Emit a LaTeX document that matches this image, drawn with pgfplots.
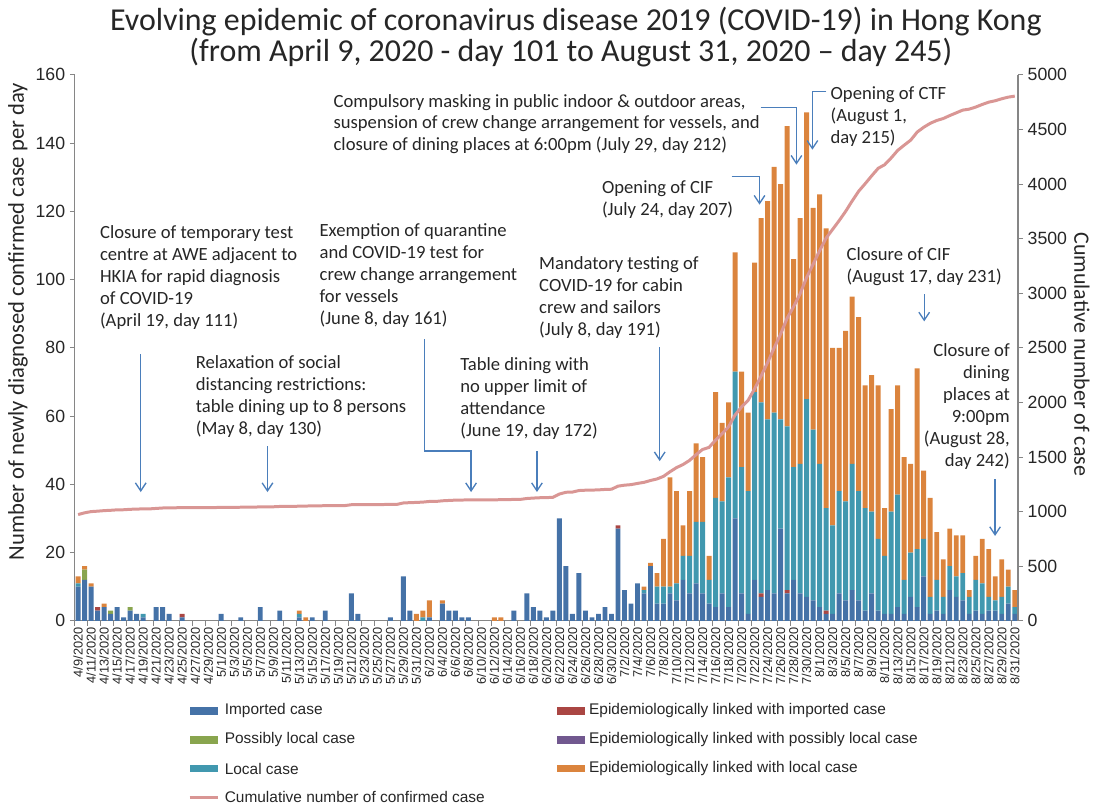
\documentclass[border=0pt]{standalone}
\usepackage{pgfplots}
\pgfplotsset{compat=1.18}
\usepackage{pgfplotstable}
\usepackage{fontspec}
\setmainfont{Carlito}
\newfontfamily\arial{Liberation Sans}
\usetikzlibrary{arrows.meta}

\definecolor{impc}{RGB}{69,114,167}
\definecolor{eimpc}{RGB}{170,70,67}
\definecolor{possc}{RGB}{137,165,78}
\definecolor{epossc}{RGB}{113,88,143}
\definecolor{locc}{RGB}{65,152,175}
\definecolor{elocc}{RGB}{219,132,61}
\definecolor{cumc}{RGB}{217,150,148}
\definecolor{arrowc}{RGB}{74,126,187}
\definecolor{axisgray}{RGB}{134,134,134}
\definecolor{textc}{RGB}{38,38,38}

% px coordinates of the reference image (origin top left)
\tikzset{px/.style={x=0.75pt,y=-0.75pt,xshift=-56.25pt,yshift=466.5pt},
  annot/.style={font=\fontsize{14}{16.5}\selectfont, align=left, inner sep=0pt, anchor=north west, text=textc},
  arr/.style={draw=arrowc, line width=1pt, -{Straight Barb[length=6pt,width=8pt]}}}

% day index (0 = 4/9/2020), cases by type, cumulative
\pgfplotstableread{
i imp eimp poss eposs loc eloc cum
0 10 0 0 0 1 2 973
1 12 0 3 0 0 1 989
2 10 0 0 0 0 1 1000
3 3 1 0 0 0 0 1004
4 4 0 0 0 0 1 1009
5 2 0 1 0 0 0 1012
6 4 0 0 0 0 0 1016
7 1 0 0 0 0 0 1017
8 3 0 1 0 0 0 1021
9 2 0 0 0 0 0 1023
10 1 0 0 0 1 0 1025
11 0 0 0 0 0 0 1025
12 4 0 0 0 0 0 1029
13 4 0 0 0 0 0 1033
14 2 0 0 0 0 0 1035
15 0 0 0 0 0 0 1035
16 1 1 0 0 0 0 1037
17 0 0 0 0 0 0 1037
18 0 0 0 0 0 0 1037
19 0 0 0 0 0 0 1037
20 0 0 0 0 0 0 1037
21 0 0 0 0 0 0 1037
22 2 0 0 0 0 0 1039
23 0 0 0 0 0 0 1039
24 0 0 0 0 0 0 1039
25 1 0 0 0 0 0 1040
26 0 0 0 0 0 0 1040
27 0 0 0 0 0 0 1040
28 4 0 0 0 0 0 1044
29 0 0 0 0 0 0 1044
30 0 0 0 0 0 0 1044
31 3 0 0 0 0 0 1047
32 0 0 0 0 0 0 1047
33 0 0 0 0 0 0 1047
34 1 0 0 0 1 1 1050
35 0 0 0 0 0 1 1051
36 1 0 0 0 0 0 1052
37 0 0 0 0 0 0 1052
38 3 0 0 0 0 0 1055
39 0 0 0 0 0 0 1055
40 0 0 0 0 0 0 1055
41 0 0 0 0 0 0 1055
42 8 0 0 0 0 0 1063
43 2 0 0 0 0 0 1065
44 0 0 0 0 0 0 1065
45 0 0 0 0 0 0 1065
46 0 0 0 0 0 0 1065
47 0 0 0 0 0 0 1065
48 1 0 0 0 0 0 1066
49 0 0 0 0 0 0 1066
50 13 0 0 0 0 0 1079
51 3 0 0 0 0 0 1082
52 0 0 0 0 0 2 1084
53 0 0 0 0 1 2 1087
54 1 0 0 0 0 5 1093
55 0 0 0 0 0 0 1093
56 5 0 0 0 0 1 1099
57 3 0 0 0 0 0 1102
58 3 0 0 0 0 0 1105
59 1 0 0 0 0 0 1106
60 1 0 0 0 0 0 1107
61 0 0 0 0 0 0 1107
62 0 0 0 0 0 0 1107
63 0 0 0 0 0 0 1107
64 0 0 0 0 0 1 1108
65 0 0 0 0 0 1 1109
66 0 0 0 0 0 0 1109
67 3 0 0 0 0 0 1112
68 0 0 0 0 0 0 1112
69 8 0 0 0 0 0 1120
70 4 0 0 0 0 0 1124
71 3 0 0 0 0 0 1127
72 1 0 0 0 0 0 1128
73 3 0 0 0 0 0 1131
74 30 0 0 0 0 0 1161
75 16 0 0 0 0 0 1177
76 2 0 0 0 0 0 1179
77 14 0 0 0 0 0 1193
78 3 0 0 0 0 0 1196
79 1 0 0 0 0 0 1197
80 2 0 0 0 0 0 1199
81 4 0 0 0 0 0 1203
82 2 0 0 0 0 0 1205
83 27 1 0 0 0 0 1233
84 9 0 0 0 0 0 1242
85 5 0 0 0 0 0 1247
86 11 0 0 0 0 0 1258
87 8 0 0 0 1 1 1268
88 16 0 0 0 0 1 1285
89 5 0 0 0 5 4 1299
90 5 0 0 0 5 14 1323
91 8 0 0 0 2 32 1365
92 6 0 0 0 5 27 1403
93 12 0 0 0 7 9 1431
94 8 0 0 0 11 19 1469
95 11 0 0 0 18 23 1521
96 8 0 0 0 21 19 1569
97 5 0 0 0 7 7 1588
98 4 0 0 0 32 31 1655
99 8 0 0 0 27 23 1713
100 4 0 0 0 38 22 1777
101 30 0 0 0 43 35 1885
102 8 0 0 0 37 28 1958
103 2 0 0 0 36 23 2019
104 12 0 0 0 55 38 2124
105 7 1 0 0 56 54 2242
106 9 0 0 0 50 64 2365
107 8 0 0 0 53 72 2498
108 27 0 0 0 32 69 2626
109 8 1 0 0 48 88 2771
110 12 0 0 0 33 61 2877
111 8 0 0 0 38 72 2995
112 7 0 0 0 58 84 3144
113 6 0 0 0 50 65 3265
114 4 0 0 0 42 79 3390
115 2 1 0 0 30 82 3505
116 2 0 0 0 26 52 3585
117 8 0 0 0 30 42 3665
118 6 0 0 0 29 50 3750
119 9 0 0 0 37 49 3845
120 6 0 0 0 32 51 3934
121 3 0 0 0 30 36 4003
122 8 0 0 0 24 40 4075
123 3 0 0 0 21 45 4144
124 2 0 0 0 17 14 4177
125 2 0 0 0 30 30 4239
126 4 0 0 0 33 32 4308
127 2 0 0 0 10 36 4356
128 7 0 0 0 13 26 4402
129 4 0 0 0 17 53 4476
130 13 0 0 0 11 20 4520
131 2 0 0 0 5 29 4556
132 3 0 0 0 9 14 4582
133 2 0 0 0 5 11 4600
134 9 0 0 0 7 11 4627
135 7 0 0 0 6 12 4652
136 6 0 0 0 8 11 4677
137 2 0 0 0 5 2 4686
138 3 0 0 0 9 7 4705
139 2 0 0 0 9 13 4729
140 3 0 0 0 4 14 4750
141 3 0 0 0 3 7 4763
142 2 0 0 0 5 11 4781
143 5 0 0 0 5 5 4796
144 2 0 0 0 2 5 4805
}\daily

\begin{document}
\begin{tikzpicture}
\begin{scope}[px]
  \useasboundingbox (0,0) rectangle (1094,811);
\end{scope}

\begin{axis}[
    at={(0,0)}, anchor=south west,
    scale only axis, width=708.75pt, height=410.25pt,
    xmin=-0.5, xmax=144.5, ymin=0, ymax=160,
    ybar stacked, bar width=3.7pt,
    axis x line*=bottom, axis y line*=left,
    axis line style={draw=axisgray, line width=0.8pt},
    tick align=outside, major tick length=3.75pt, minor tick length=3.75pt,
    xtick={0,2,...,144},
    xticklabels={4/9/2020,4/11/2020,4/13/2020,4/15/2020,4/17/2020,4/19/2020,4/21/2020,4/23/2020,4/25/2020,4/27/2020,4/29/2020,
      5/1/2020,5/3/2020,5/5/2020,5/7/2020,5/9/2020,5/11/2020,5/13/2020,5/15/2020,5/17/2020,5/19/2020,5/21/2020,5/23/2020,5/25/2020,5/27/2020,5/29/2020,5/31/2020,
      6/2/2020,6/4/2020,6/6/2020,6/8/2020,6/10/2020,6/12/2020,6/14/2020,6/16/2020,6/18/2020,6/20/2020,6/22/2020,6/24/2020,6/26/2020,6/28/2020,6/30/2020,
      7/2/2020,7/4/2020,7/6/2020,7/8/2020,7/10/2020,7/12/2020,7/14/2020,7/16/2020,7/18/2020,7/20/2020,7/22/2020,7/24/2020,7/26/2020,7/28/2020,7/30/2020,
      8/1/2020,8/3/2020,8/5/2020,8/7/2020,8/9/2020,8/11/2020,8/13/2020,8/15/2020,8/17/2020,8/19/2020,8/21/2020,8/23/2020,8/25/2020,8/27/2020,8/29/2020,8/31/2020},
    minor xtick={-0.5,1.5,...,143.5},
    major x tick style={draw=none},
    minor x tick style={draw=axisgray, line width=0.6pt},
    ytick={0,20,...,160},
    y tick style={draw=axisgray, line width=0.6pt},
    x tick label style={rotate=90, anchor=east, inner sep=1pt, font=\arial\fontsize{9.6}{10}\selectfont, text=textc},
    y tick label style={font=\arial\fontsize{13.3}{14}\selectfont, text=textc},
    /pgf/number format/assume math mode=true,
    ylabel={Number of newly diagnosed confirmed case per day},
    every axis y label/.style={at={(axis description cs:-0.0603,0.548)}, rotate=90, anchor=center,
      font=\fontsize{17}{18}\selectfont, text=textc},
]
\addplot[fill=impc, draw=none] table[x=i, y=imp] {\daily};
\addplot[fill=eimpc, draw=none] table[x=i, y=eimp] {\daily};
\addplot[fill=possc, draw=none] table[x=i, y=poss] {\daily};
\addplot[fill=epossc, draw=none] table[x=i, y=eposs] {\daily};
\addplot[fill=locc, draw=none] table[x=i, y=loc] {\daily};
\addplot[fill=elocc, draw=none] table[x=i, y=eloc] {\daily};
\end{axis}

\begin{axis}[
    at={(0,0)}, anchor=south west,
    scale only axis, width=708.75pt, height=410.25pt,
    xmin=-0.5, xmax=144.5, ymin=0, ymax=5000,
    axis x line=none, axis y line*=right,
    axis line style={draw=axisgray, line width=0.8pt},
    tick align=outside, major tick length=3.75pt,
    ytick={0,500,...,5000},
    y tick style={draw=axisgray, line width=0.6pt},
    y tick label style={font=\arial\fontsize{13.3}{14}\selectfont, text=textc},
    /pgf/number format/assume math mode=true,
    /pgf/number format/1000 sep={},
    ylabel={Cumulative number of case},
    every axis y label/.style={at={(axis description cs:1.0677,0.488)}, rotate=-90, anchor=center,
      font=\fontsize{16.5}{17}\selectfont, text=textc},
]
\addplot[cumc, line width=2.25pt, mark=none] table[x=i, y=cum] {\daily};
\end{axis}

\begin{scope}[px]
  % title
  \node[font=\fontsize{24}{26}\selectfont, text=textc] at (577,22) {Evolving epidemic of coronavirus disease 2019 (COVID-19) in Hong Kong};
  \node[font=\fontsize{24}{26}\selectfont, text=textc] at (572,53) {(from April 9, 2020 - day 101 to August 31, 2020 – day 245)};

  % annotations
  \node[annot] at (100,226) {Closure of temporary test\\centre at AWE adjacent to\\HKIA for rapid diagnosis\\of COVID-19\\(April 19, day 111)};
  \draw[arr] (141,355) -- (141,493);
  \node[annot] at (196,356) {Relaxation of social\\distancing restrictions:\\table dining up to 8 persons\\(May 8, day 130)};
  \draw[arr] (268,447) -- (268,493);
  \node[annot] at (320,224) {Exemption of quarantine\\and COVID-19 test for\\crew change arrangement\\for vessels\\(June 8, day 161)};
  \draw[arr] (425,340) -- (425,452) -- (472,452) -- (472,493);
  \node[annot] at (461,358) {Table dining with\\no upper limit of\\attendance\\(June 19, day 172)};
  \draw[arr] (538,452) -- (538,493);
  \node[annot] at (540,257) {Mandatory testing of\\COVID-19 for cabin\\crew and sailors\\(July 8, day 191)};
  \draw[arr] (661,348) -- (661,462);
  \node[annot] at (603,181) {Opening of CIF\\(July 24, day 207)};
  \draw[arr] (733,177) -- (761,177) -- (761,205);
  \node[annot] at (334,94) {Compulsory masking in public indoor \& outdoor areas,\\suspension of crew change arrangement for vessels, and\\closure of dining places at 6:00pm (July 29, day 212)};
  \draw[arr] (762,108) -- (798,108) -- (798,165);
  \node[annot] at (832,87) {Opening of CTF\\(August 1,\\day 215)};
  \draw[arr] (828,92) -- (814,92) -- (814,150);
  \node[annot] at (848,248) {Closure of CIF\\(August 17, day 231)};
  \draw[arr] (926,295) -- (926,322);
  \node[annot, anchor=north east, align=right] at (1012,344) {Closure of\\dining\\places at\\9:00pm\\(August 28,\\day 242)};
  \draw[arr] (997,480) -- (997,537);

  % legend
  \begin{scope}[every node/.style={anchor=west, inner sep=0pt, font=\arial\fontsize{11.6}{12}\selectfont, text=textc}]
    \fill[impc] (190,708) rectangle (218,716);   \node at (225,712) {Imported case};
    \fill[eimpc] (558,708) rectangle (586,716);  \node at (590,712) {Epidemiologically linked with imported case};
    \fill[possc] (190,737) rectangle (218,745);  \node at (225,741) {Possibly local case};
    \fill[epossc] (558,737) rectangle (586,745); \node at (590,741) {Epidemiologically linked with possibly local case};
    \fill[locc] (190,766) rectangle (218,774);   \node at (225,770) {Local case};
    \fill[elocc] (558,766) rectangle (586,774);  \node at (590,770) {Epidemiologically linked with local case};
    \draw[cumc, line width=2.25pt] (190,799) -- (218,799); \node at (225,799) {Cumulative number of confirmed case};
  \end{scope}
\end{scope}
\end{tikzpicture}
\end{document}
